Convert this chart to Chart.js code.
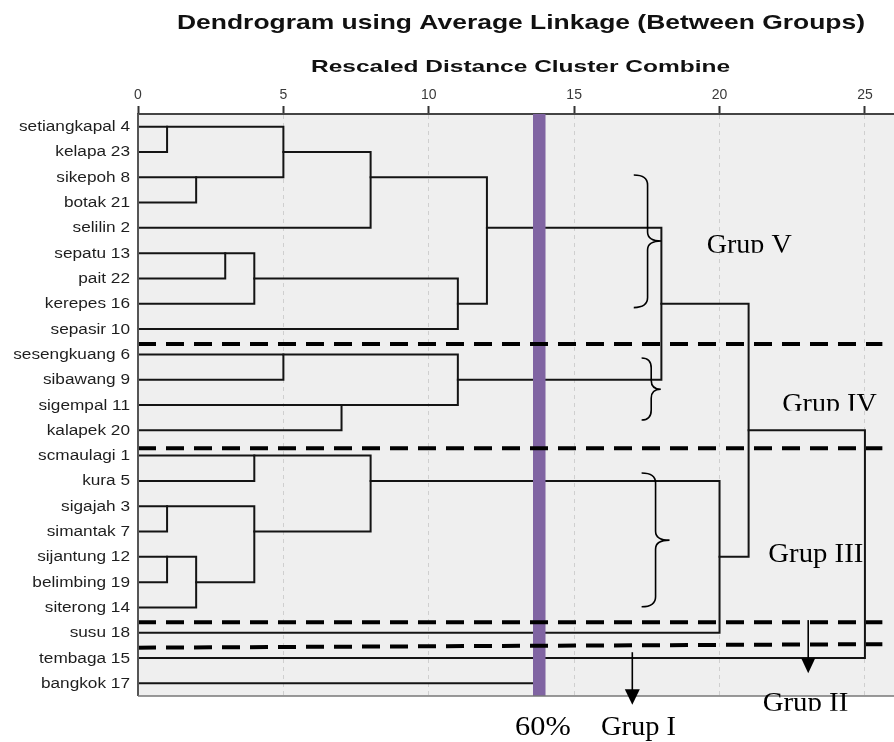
<!DOCTYPE html>
<html><head><meta charset="utf-8">
<script src="https://cdn.jsdelivr.net/npm/chart.js@4/dist/chart.umd.min.js"></script>
<style>html,body{margin:0;padding:0;background:#fff;}#wrap{width:894px;height:742px;}</style>
</head><body><div id="wrap"><canvas id="c" width="894" height="742"></canvas></div>
<script>
// ---- data ----
const leafLabels = ['setiangkapal 4','kelapa 23','sikepoh 8','botak 21','selilin 2','sepatu 13','pait 22','kerepes 16','sepasir 10','sesengkuang 6','sibawang 9','sigempal 11','kalapek 20','scmaulagi 1','kura 5','sigajah 3','simantak 7','sijantung 12','belimbing 19','siterong 14','susu 18','tembaga 15','bangkok 17'];
const mergeRowA = [0,2,0,1,5,5,6,2,9,11,9,4,13,15,17,17,15,13,14,7,12];
const mergeRowB = [1,3,2,4,6,7,8,7,10,12,11,10,14,16,18,19,18,16,20,17,21];
const mergeHeight = [1,2,5,8,3,4,11,12,5,7,11,18,4,1,1,2,4,8,20,21,25];
const mergeParentRow = [0,2,1,2,5,6,7,4,9,11,10,7,13,15,17,18,16,14,17,12,null];
const openRows = [22];
const openRowEnds = [13.7];
const xTicks = [0,5,10,15,20,25];
const cutValue = 13.8;
const cutLabel = '60%';
const groupNames = ['Grup I','Grup II','Grup III','Grup IV','Grup V'];
const dividerLeft = [8.59, 12.71, 19.59, 20.59];
const dividerRight = [8.59, 12.71, 19.59, 20.45];
const titleText = 'Dendrogram using Average Linkage (Between Groups)';
const axisTitleText = 'Rescaled Distance Cluster Combine';

// ---- build datasets ----
const lineStyle = {borderColor:'#141414', borderWidth:2, pointRadius:0, fill:false, tension:0, order:3, borderJoinStyle:'miter', borderCapStyle:'square'};
const start = leafLabels.map(() => 0);
const datasets = [];
for (let i = 0; i < mergeHeight.length; i++) {
  const a = mergeRowA[i], b = mergeRowB[i], h = mergeHeight[i];
  datasets.push(Object.assign({data:[{x:start[a],y:a},{x:h,y:a},{x:h,y:b},{x:start[b],y:b}]}, lineStyle));
  if (mergeParentRow[i] !== null) start[mergeParentRow[i]] = h;
}
openRows.forEach((r,k) => datasets.push(Object.assign({data:[{x:start[r],y:r},{x:openRowEnds[k],y:r}]}, lineStyle, {borderCapStyle:'butt'})));
datasets.push({data:[{x:cutValue,y:-0.5},{x:cutValue,y:22.5}], borderColor:'#8064a2', borderWidth:12.5, pointRadius:0, order:2, borderCapStyle:'butt'});
dividerLeft.forEach((l,k) => datasets.push({data:[{x:0,y:l},{x:25.6,y:dividerRight[k]}], borderColor:'#000', borderWidth:4, borderDash:[18,10], pointRadius:0, order:1, borderCapStyle:'butt'}));

// ---- annotation geometry (data units) ----
const braces = [
  {x0:17.05, x1:18.0, top:1.91, mid:4.52, bottom:7.15},
  {x0:17.32, x1:17.98, top:9.14, mid:10.38, bottom:11.59},
  {x0:17.32, x1:18.28, top:13.69, mid:16.34, bottom:18.97}
];
const arrows = [
  {x:17.0, y0:20.77, yh:22.23, y1:22.85, w:15},
  {x:23.05, y0:19.5, yh:21.01, y1:21.6, w:14}
];

function fitText(ctx, text, left, baseline, width, font, color, clipBottom) {
  ctx.save();
  if (clipBottom) { ctx.beginPath(); ctx.rect(0, 0, 894, clipBottom); ctx.clip(); }
  ctx.font = font; ctx.fillStyle = color; ctx.textAlign = 'left'; ctx.textBaseline = 'alphabetic';
  const w = ctx.measureText(text).width;
  ctx.translate(left, baseline); ctx.scale(width / w, 1);
  ctx.fillText(text, 0, 0);
  ctx.restore();
}

const decor = {
  id: 'decor',
  beforeDraw(chart) {
    const {ctx, chartArea:ca} = chart;
    ctx.save();
    ctx.fillStyle = '#fff'; ctx.fillRect(0,0,chart.width,chart.height);
    ctx.fillStyle = '#efefef'; ctx.fillRect(ca.left, ca.top, ca.right-ca.left, ca.bottom-ca.top);
    ctx.restore();
  },
  afterDatasetsDraw(chart) {
    const {ctx, chartArea:ca, scales:{x, y}} = chart;
    ctx.save();
    ctx.strokeStyle = '#555'; ctx.lineWidth = 2;
    ctx.beginPath(); ctx.moveTo(ca.left, ca.top); ctx.lineTo(ca.left, ca.bottom); ctx.stroke();
    ctx.strokeStyle = '#777'; ctx.lineWidth = 1.5;
    ctx.beginPath(); ctx.moveTo(ca.left, ca.bottom); ctx.lineTo(ca.right, ca.bottom); ctx.stroke();
    ctx.strokeStyle = '#000'; ctx.lineWidth = 1.6;
    braces.forEach(b => {
      const x0 = x.getPixelForValue(b.x0), x1 = x.getPixelForValue(b.x1);
      const xs = (x0 + x1) / 2;
      const t = y.getPixelForValue(b.top), m = y.getPixelForValue(b.mid), bt = y.getPixelForValue(b.bottom);
      const r = Math.min(10, (m - t) / 3), r2 = Math.min(9, (m - t) / 3);
      ctx.beginPath();
      ctx.moveTo(x0, t);
      ctx.quadraticCurveTo(xs, t, xs, t + r);
      ctx.lineTo(xs, m - r2);
      ctx.quadraticCurveTo(xs, m, x1, m);
      ctx.quadraticCurveTo(xs, m, xs, m + r2);
      ctx.lineTo(xs, bt - r);
      ctx.quadraticCurveTo(xs, bt, x0, bt);
      ctx.stroke();
    });
    ctx.restore();
  },
  afterDraw(chart) {
    const {ctx, scales:{x, y}} = chart;
    ctx.save();
    ctx.strokeStyle = '#000'; ctx.fillStyle = '#000'; ctx.lineWidth = 1.6;
    arrows.forEach(a => {
      const px = x.getPixelForValue(a.x), p0 = y.getPixelForValue(a.y0), ph = y.getPixelForValue(a.yh), p1 = y.getPixelForValue(a.y1);
      ctx.beginPath(); ctx.moveTo(px, p0); ctx.lineTo(px, ph + 1); ctx.stroke();
      ctx.beginPath(); ctx.moveTo(px - a.w/2, ph); ctx.lineTo(px + a.w/2, ph); ctx.lineTo(px, p1); ctx.closePath(); ctx.fill();
    });
    ctx.font = '14px "Liberation Sans", Arial, sans-serif';
    ctx.fillStyle = '#1e1e1e'; ctx.textAlign = 'right'; ctx.textBaseline = 'alphabetic';
    leafLabels.forEach((lab, i) => {
      const py = y.getPixelForValue(i);
      ctx.save(); ctx.translate(130, py + 4.5); ctx.scale(1.23, 1); ctx.fillText(lab, 0, 0); ctx.restore();
    });
    ctx.restore();
    fitText(ctx, titleText, 177, 28.5, 688, 'bold 21px "Liberation Sans", Arial, sans-serif', '#111');
    fitText(ctx, axisTitleText, 311, 71.5, 419, 'bold 17px "Liberation Sans", Arial, sans-serif', '#111');
    const serif = '28px "Liberation Serif", "DejaVu Serif", serif';
    fitText(ctx, groupNames[4], 706.7, 252.8, 85, serif, '#000', 252.7);
    fitText(ctx, groupNames[3], 782.3, 411.8, 94.4, serif, '#000', 410.7);
    fitText(ctx, groupNames[2], 768.3, 561.8, 95, serif, '#000');
    fitText(ctx, groupNames[1], 762.7, 710.8, 85.6, serif, '#000', 710.7);
    fitText(ctx, groupNames[0], 601, 734.5, 75, serif, '#000');
    fitText(ctx, cutLabel, 515, 735, 55.7, serif, '#000');
  }
};

new Chart(document.getElementById('c'), {
  type: 'line',
  data: {datasets},
  options: {
    responsive: false, devicePixelRatio: 1, animation: false, events: [],
    layout: {padding: {left: 138, right: 0, top: 0, bottom: 46}},
    plugins: {legend: {display: false}, tooltip: {enabled: false}, title: {display: false}},
    scales: {
      x: {
        type: 'linear', position: 'top', min: 0, max: 26,
        afterBuildTicks: s => { s.ticks = xTicks.map(v => ({value: v})); },
        afterFit: s => { s.height = 114; },
        ticks: {color: '#3a3a3a', font: {family: '"Liberation Sans", Arial, sans-serif', size: 14}, padding: 2, maxRotation: 0},
        grid: {color: '#cfcfcf', lineWidth: 1, tickColor: '#333', tickLength: 8, tickWidth: 2, drawTicks: true},
        border: {display: true, color: '#444', width: 2, dash: [4, 4]}
      },
      y: {type: 'linear', min: -0.5, max: 22.5, reverse: true, display: false}
    }
  },
  plugins: [decor]
});
</script></body></html>
